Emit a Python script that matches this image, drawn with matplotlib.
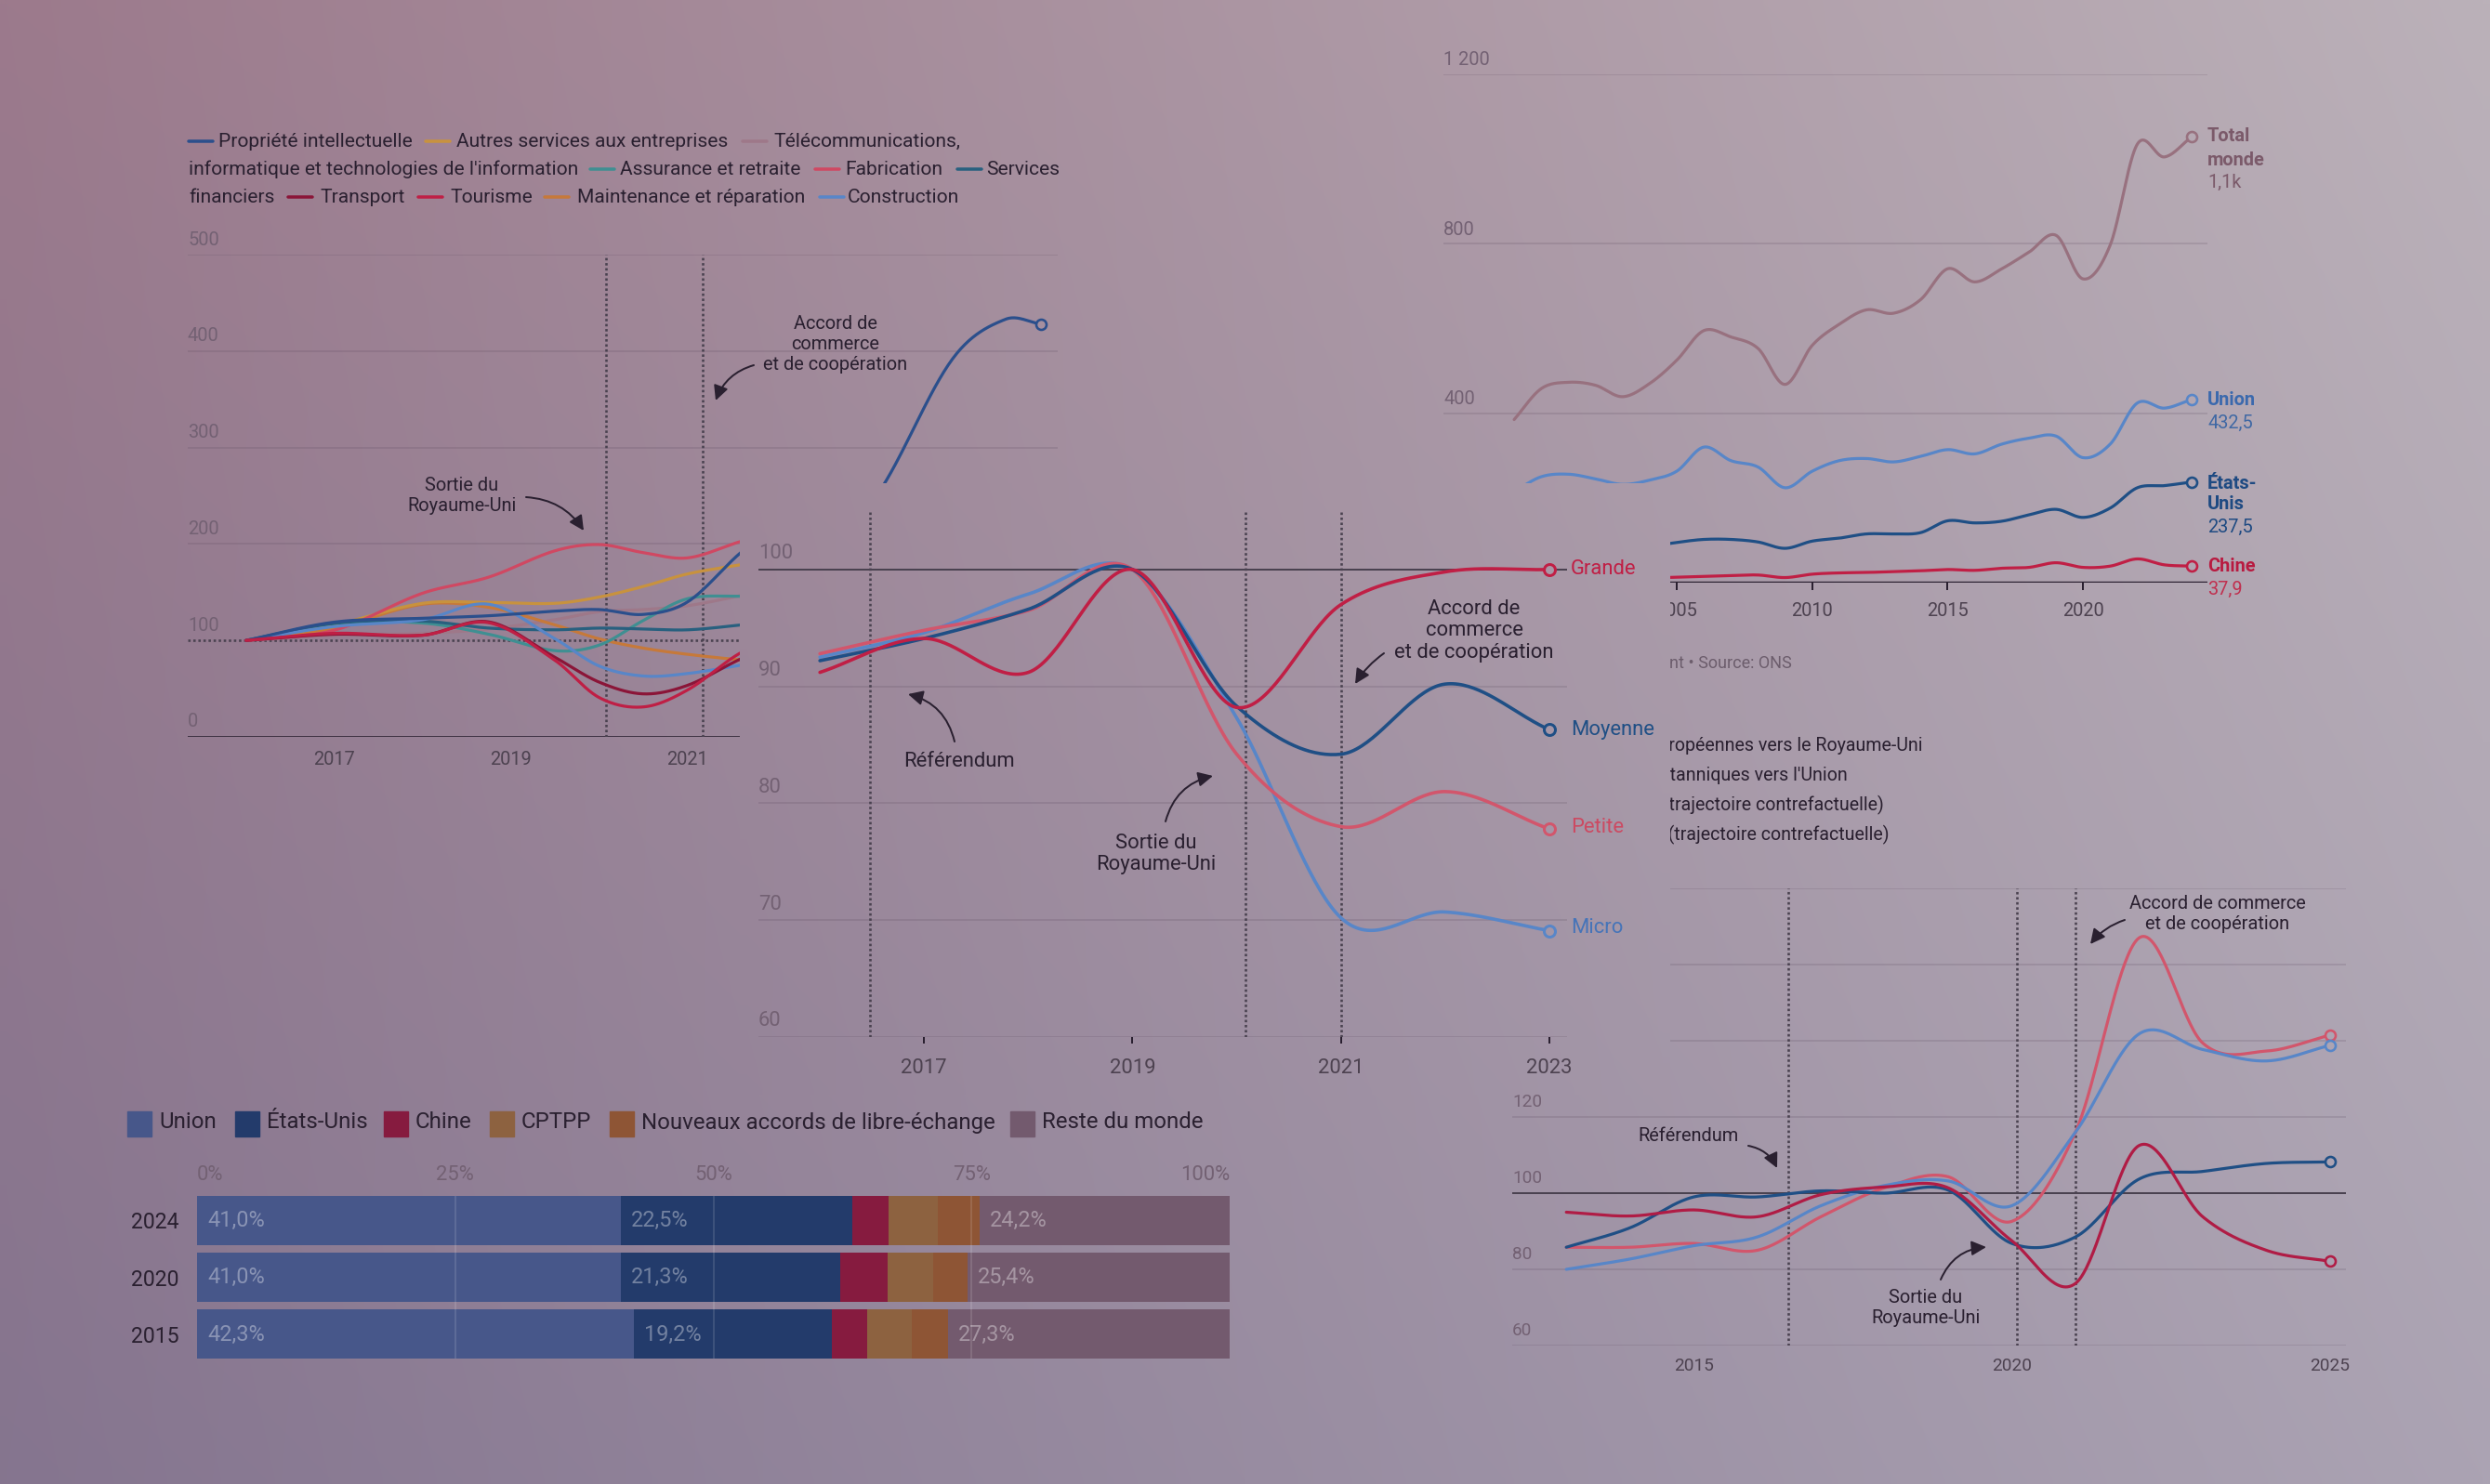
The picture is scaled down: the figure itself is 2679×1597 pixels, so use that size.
import numpy as np
import matplotlib
matplotlib.use('Agg')
import matplotlib.pyplot as plt
from matplotlib import font_manager

W, H, DPI = 2679, 1597, 100

installed = {f.name for f in font_manager.fontManager.ttflist}
FONT = 'Roboto' if 'Roboto' in installed else 'DejaVu Sans'
plt.rcParams['font.family'] = [FONT, 'DejaVu Sans']

# ---------------- data ----------------
# Exports de services par secteur (indice 2016 = 100)
sect_years = [2016, 2017, 2018, 2018.75, 2019.5, 2020, 2020.5, 2021, 2021.6, 2022]
propriete_years = sect_years + [2023, 2024, 2024.6, 2025]
propriete = [100, 119, 123, 125.6, 130.4, 132, 127, 140, 191, 218, 235, 392, 433, 428]
autres = [100, 116, 138.5, 139.4, 138.5, 145, 156, 169, 178.5, 185]
telecom = [100, 105.4, 107.4, 111.9, 121.5, 129.8, 132, 136, 146.5, 155]
assurance = [100, 117.6, 118, 106.4, 89.4, 95.2, 120.8, 143.3, 145.8, 146]
fabrication = [100, 110.6, 149, 165.7, 193, 199.4, 191, 185.6, 202.6, 212]
services_fin = [100, 117.6, 120, 112.8, 111, 112.8, 111.9, 111, 116, 120]
transport = [100, 106.4, 105.4, 119.2, 82.4, 56.7, 44.6, 53.5, 80.8, 95]
tourisme = [100, 107.4, 105.4, 118.3, 79.2, 40.7, 31.1, 48.7, 87.2, 100]
maintenance = [100, 112.8, 137.5, 134.3, 116, 101.6, 92, 85.6, 79.8, 77]
construction = [100, 114.4, 121.5, 137.5, 101.6, 73.4, 63.1, 65.7, 74.4, 80]
sect_names = ['Propriété intellectuelle', 'Autres services aux entreprises',
              "Télécommunications,\ninformatique et technologies de l'information",
              'Assurance et retraite', 'Fabrication', 'Services\nfinanciers', 'Transport',
              'Tourisme', 'Maintenance et réparation', 'Construction']

# Exports par taille d'entreprise (indice 2019 = 100)
firm_years = [2016, 2017, 2018, 2019, 2020, 2021, 2022, 2023]
grande = [91.2, 94.1, 91.2, 100.0, 88.2, 97.0, 99.8, 100.0]
moyenne = [92.2, 94.1, 96.6, 100.0, 88.3, 84.2, 90.2, 86.3]
petite = [92.8, 94.8, 96.5, 100.0, 84.2, 78.0, 81.0, 77.8]
micro = [92.5, 94.6, 97.9, 100.0, 87.3, 70.2, 70.7, 69.1]
firm_names = ['Grande', 'Moyenne', 'Petite', 'Micro']

# Exports britanniques par destination (milliards de livres)
world_years = list(range(1999, 2025))
total_monde = [385, 458, 473, 466, 439, 470, 525, 595, 580, 553, 468, 560, 610, 644, 636,
               668, 741, 710, 741, 780, 820, 717, 797, 1035, 1005, 1052]
union_ue = [215, 250, 256, 245, 232, 242, 263, 320, 288, 273, 224, 263, 288, 293, 285,
            298, 314, 304, 327, 341, 346, 295, 327, 424, 412, 432.5]
etats_unis = [70, 78, 84, 82, 78, 86, 95, 102, 102, 96, 81, 98, 105, 115, 115, 118, 146,
              141, 145, 160, 173, 154, 176, 224, 229, 237.5]
chine = [5, 6, 7, 8, 9, 11, 13, 15, 17, 18, 12, 20, 23, 24, 26, 28, 31, 29, 34, 36, 47,
         36, 39, 56, 42, 39]

# Echanges UE / Royaume-Uni (indice)
trade_years = list(range(2013, 2026))
ue_vers_ru = [95.0, 94.0, 95.6, 93.8, 99.6, 101.6, 101.4, 87.5, 76.3, 112.5, 93.8, 85.0, 82.1]
ru_vers_ue = [85.8, 90.9, 99.0, 99.0, 100.6, 100.0, 100.8, 86.8, 88.5, 103.7, 105.7, 107.8, 108.2]
ue_contref = [85.8, 85.8, 86.8, 85.0, 93.8, 101.4, 104.3, 92.6, 116.0, 167.0, 139.4, 137.3, 141.5]
ru_contref = [80.0, 82.7, 86.2, 88.5, 96.7, 102.0, 103.2, 96.7, 116.0, 141.8, 137.7, 134.7, 138.8]
trade_names = ['Exportations européennes vers le Royaume-Uni',
               "Exportations britanniques vers l'Union",
               'Exportations européennes (trajectoire contrefactuelle)',
               'Exportations britanniques (trajectoire contrefactuelle)']

# Parts des destinations (%)
bar_years = ['2024', '2020', '2015']
share_names = ['Union', 'États-Unis', 'Chine', 'CPTPP', 'Nouveaux accords de libre-échange',
               'Reste du monde']
union_share = [41.0, 41.0, 42.3]
us_share = [22.5, 21.3, 19.2]
china_share = [3.5, 4.6, 3.4]
cptpp_share = [4.7, 4.4, 4.3]
fta_share = [4.1, 3.3, 3.5]
rest_share = [24.2, 25.4, 27.3]

# ---------------- style helpers ----------------
INK = '#2a2030'
GRID = (0.33, 0.26, 0.34, 0.22)
REF = '#4a4250'
YLAB = '#736173'
XLAB = '#4d4250'
DOT = (0, (1, 1.1))
LBLUE = '#5886c8'

bg_tl = np.array([156, 122, 140]) / 255
bg_tr = np.array([187, 177, 185]) / 255
bg_bl = np.array([133, 117, 143]) / 255
bg_br = np.array([171, 163, 179]) / 255


def px(v):
    return v * 72 / DPI


def rect(x0, y0, x1, y1):
    return [x0 / W, 1 - y1 / H, (x1 - x0) / W, (y1 - y0) / H]


def P(x, y):
    return (x / W, 1 - y / H)


def bg_patch(x0, x1, y0, y1, n=64):
    gx, gy = np.meshgrid(np.linspace(x0, x1, n) / W, np.linspace(y0, y1, n) / H)
    gx, gy = gx[..., None], gy[..., None]
    top = bg_tl * (1 - gx) + bg_tr * gx
    bot = bg_bl * (1 - gx) + bg_br * gx
    return np.clip(top * (1 - gy) + bot * gy, 0, 1)


def bg_at(ax, x, y):
    dx, dy = ax.transData.transform((x, y))
    return tuple(bg_patch(dx, dx, H - dy, H - dy, 1)[0, 0])


def smooth(xs, ys, n=40):
    xs = np.asarray(xs, float)
    ys = np.asarray(ys, float)
    m = np.empty_like(ys)
    m[1:-1] = (ys[2:] - ys[:-2]) / (xs[2:] - xs[:-2])
    m[0] = (ys[1] - ys[0]) / (xs[1] - xs[0])
    m[-1] = (ys[-1] - ys[-2]) / (xs[-1] - xs[-2])
    ox, oy = [], []
    t = np.linspace(0, 1, n, endpoint=False)
    for i in range(len(xs) - 1):
        h = xs[i + 1] - xs[i]
        ox.append(xs[i] + t * h)
        oy.append((2 * t**3 - 3 * t**2 + 1) * ys[i] + (t**3 - 2 * t**2 + t) * h * m[i]
                  + (-2 * t**3 + 3 * t**2) * ys[i + 1] + (t**3 - t**2) * h * m[i + 1])
    ox.append([xs[-1]])
    oy.append([ys[-1]])
    return np.concatenate(ox), np.concatenate(oy)


def ftext(ax, x, y, s, size, **kw):
    kw.setdefault('ha', 'left')
    kw.setdefault('va', 'center')
    kw.setdefault('color', INK)
    return ax.text(x / W, 1 - y / H, s, transform=fig.transFigure, fontsize=px(size), **kw)


def arrow(ax, x0, y0, x1, y1, rad):
    ax.annotate('', xy=P(x1, y1), xytext=P(x0, y0), xycoords='figure fraction',
                textcoords='figure fraction',
                arrowprops=dict(arrowstyle='-|>,head_length=0.6,head_width=0.3', color=INK,
                                lw=px(2), shrinkA=0, shrinkB=0, mutation_scale=px(22),
                                connectionstyle=f'arc3,rad={rad}'))


def clean(ax):
    ax.patch.set_visible(False)
    for s in ax.spines.values():
        s.set_visible(False)
    ax.set_yticks([])


def ylabels(ax, values, texts, size, dy=16):
    for v, s in zip(values, texts):
        ax.annotate(s, xy=(0, v), xycoords=('axes fraction', 'data'), xytext=(0, px(dy)),
                    textcoords='offset points', ha='left', va='center', fontsize=px(size),
                    color=YLAB)


def end_marker(ax, x, y, color, size=12, mew=2.8):
    ax.plot([x], [y], 'o', ms=px(size), mew=px(mew), mec=color, mfc=bg_at(ax, x, y),
            zorder=5, clip_on=False)


fig = plt.figure(figsize=(W / DPI, H / DPI), dpi=DPI)

ax_bg = fig.add_axes([0, 0, 1, 1], zorder=0)
ax_bg.imshow(bg_patch(0, W, 0, H, 200), aspect='auto', extent=(0, 1, 0, 1),
             interpolation='bilinear')
ax_bg.axis('off')

# ---------------- chart 1 : sectors ----------------
ax1 = fig.add_axes(rect(202, 274, 1138, 793), zorder=1)
clean(ax1)
ax1.set_xlim(2015.34, 2025.19)
ax1.set_ylim(0, 500)
ax1.set_xticks([2017, 2019, 2021])
ax1.tick_params(axis='x', length=0, pad=px(15), labelsize=px(20), labelcolor=XLAB)
for v in [200, 300, 400, 500]:
    ax1.axhline(v, color=GRID, lw=px(1.5))
ax1.axhline(100, color=REF, lw=px(2.6), ls=DOT)
ax1.axhline(0, color=INK, lw=px(2.6))
ylabels(ax1, [0, 100, 200, 300, 400, 500], ['0', '100', '200', '300', '400', '500'], 20)
for xv in [2020.08, 2021.17]:
    ax1.axvline(xv, color=REF, lw=px(2.6), ls=DOT)

sect_colors = ['#2b4f8c', '#c8923e', '#9e7889', '#3f8f92', '#d04862', '#28607f',
               '#8b1538', '#bf1f45', '#c6793a', LBLUE]
sect_values = [propriete, autres, telecom, assurance, fabrication, services_fin,
               transport, tourisme, maintenance, construction]
draw_order = [2, 8, 1, 4, 3, 5, 9, 0, 6, 7]
for i in draw_order:
    yrs = propriete_years if i == 0 else sect_years
    sx, sy = smooth(yrs, sect_values[i])
    ax1.plot(sx, sy, color=sect_colors[i], lw=px(3.2), solid_capstyle='round')
end_marker(ax1, propriete_years[-1], propriete[-1], sect_colors[0], size=11, mew=2.6)

leg_layout = [(0, 0, 0, 203, 235), (1, 0, 0, 458, 491), (2, 0, 0, 799, 832),
              (2, 1, 1, None, 203), (3, 0, 1, 635, 667), (4, 0, 1, 877, 909),
              (5, 0, 1, 1030, 1061), (5, 1, 2, None, 203), (6, 0, 2, 310, 344),
              (7, 0, 2, 450, 484), (8, 0, 2, 586, 621), (9, 0, 2, 882, 912)]
leg_rows = [152, 182, 212]
for idx, part, row, mx, tx in leg_layout:
    y = leg_rows[row]
    if mx is not None:
        ax1.plot([mx / W, (mx + 26) / W], [1 - y / H] * 2, transform=fig.transFigure,
                 color=sect_colors[idx], lw=px(3.5), solid_capstyle='round', clip_on=False)
    ftext(ax1, tx, y, sect_names[idx].split('\n')[part], 21)

ftext(ax1, 497, 533, 'Sortie du\nRoyaume-Uni', 20, ha='center', multialignment='center',
      linespacing=1.2)
arrow(ax1, 566, 535, 628, 571, -0.25)
ftext(ax1, 899, 370, 'Accord de\ncommerce\net de coopération', 20, ha='center',
      multialignment='center', linespacing=1.2)
arrow(ax1, 811, 393, 770, 431, 0.25)

# ---------------- chart 2 : destinations ----------------
ax2 = fig.add_axes(rect(1553, 80, 2375, 627), zorder=1)
clean(ax2)
ax2.set_xlim(1996.39, 2024.59)
ax2.set_ylim(0, 1200)
ax2.set_xticks([2005, 2010, 2015, 2020])
ax2.tick_params(axis='x', length=px(8), width=px(2), color=INK, pad=px(13),
                labelsize=px(20), labelcolor=XLAB)
for v in [400, 800, 1200]:
    ax2.axhline(v, color=GRID, lw=px(1.5))
ax2.axhline(0, color=INK, lw=px(2.4))
ylabels(ax2, [400, 800, 1200], ['400', '800', '1 200'], 20, dy=15)

world_series = [total_monde, union_ue, etats_unis, chine]
world_colors = ['#98717f', LBLUE, '#1f4f85', '#c01f45']
for vals, c in zip(world_series, world_colors):
    sx, sy = smooth(world_years, vals)
    ax2.plot(sx, sy, color=c, lw=px(3.2), solid_capstyle='round')
    end_marker(ax2, world_years[-1], vals[-1], c, size=11, mew=2.6)

ftext(ax2, 2375, 147, 'Total', 20, color='#7b5a6a', fontweight='bold')
ftext(ax2, 2375, 172, 'monde', 20, color='#7b5a6a', fontweight='bold')
ftext(ax2, 2375, 196, '1,1k', 20, color='#7b5a6a')
ftext(ax2, 2375, 431, 'Union', 20, color='#3b69ad', fontweight='bold')
ftext(ax2, 2375, 455, f'{union_ue[-1]:.1f}'.replace('.', ','), 20, color='#3f68a4')
ftext(ax2, 2375, 520, 'États-', 20, color='#1e4a82', fontweight='bold')
ftext(ax2, 2375, 543, 'Unis', 20, color='#1e4a82', fontweight='bold')
ftext(ax2, 2375, 567, f'{etats_unis[-1]:.1f}'.replace('.', ','), 20, color='#1e4a82')
ftext(ax2, 2375, 609, 'Chine', 20, color='#b81a40', fontweight='bold')
ftext(ax2, 2375, 634, '37,9', 20, color='#c0304f')
ftext(ax2, 1928, 714, 'Milliards de livres sterling, prix courant • Source: ONS', 18,
      ha='right', color='#6c5d6c')

# ---------------- chart 3 : EU / UK trade ----------------
ax3 = fig.add_axes(rect(1627, 956, 2524, 1448), zorder=1)
clean(ax3)
ax3.set_xlim(2012.15, 2025.25)
ax3.set_ylim(60, 180)
ax3.set_xticks([2015, 2020, 2025])
ax3.tick_params(axis='x', length=0, pad=px(13), labelsize=px(19), labelcolor=XLAB)
for v in [60, 80, 120, 140, 160, 180]:
    ax3.axhline(v, color=GRID, lw=px(1.5))
ax3.axhline(100, color=REF, lw=px(2))
ylabels(ax3, [60, 80, 100, 120, 140, 160, 180],
        ['60', '80', '100', '120', '140', '160', '180'], 19)
for xv in [2016.49, 2020.08, 2021.0]:
    ax3.axvline(xv, color=REF, lw=px(2.6), ls=DOT)

trade_series = [ue_contref, ru_contref, ru_vers_ue, ue_vers_ru]
trade_colors = ['#d2566c', LBLUE, '#1f4f85', '#b01c45']
for vals, c in zip(trade_series, trade_colors):
    sx, sy = smooth(trade_years, vals)
    ax3.plot(sx, sy, color=c, lw=px(3.2), solid_capstyle='round')
    end_marker(ax3, trade_years[-1], vals[-1], c, size=11, mew=2.6)

for name, xr, y in zip(trade_names, [2069, 1988, 2027, 2032], [802, 834, 866, 898]):
    ftext(ax3, xr, y, name, 19.6, ha='right')

ftext(ax3, 1817, 1223, 'Référendum', 20, ha='center')
arrow(ax3, 1881, 1233, 1912, 1257, -0.25)
ftext(ax3, 2072, 1408, 'Sortie du\nRoyaume-Uni', 20, ha='center', multialignment='center',
      linespacing=1.2)
arrow(ax3, 2088, 1377, 2137, 1342, -0.3)
ftext(ax3, 2386, 984, 'Accord de commerce\net de coopération', 20, ha='center',
      multialignment='center', linespacing=1.2)
arrow(ax3, 2286, 990, 2249, 1016, 0.15)

# ---------------- panel in front ----------------
ax_occ = fig.add_axes(rect(796, 520, 1797, 1178), zorder=2)
ax_occ.imshow(bg_patch(796, 1797, 520, 1178, 64), aspect='auto', extent=(0, 1, 0, 1),
              interpolation='bilinear')
ax_occ.axis('off')

# ---------------- chart 4 : firm size ----------------
ax4 = fig.add_axes(rect(816, 550, 1686, 1116), zorder=3)
clean(ax4)
ax4.set_xlim(2015.41, 2023.17)
ax4.set_ylim(60, 105)
ax4.set_xticks([2017, 2019, 2021, 2023])
ax4.tick_params(axis='x', length=px(7), width=px(2), color=INK, pad=px(16),
                labelsize=px(22), labelcolor=XLAB)
for v in [60, 70, 80, 90]:
    ax4.axhline(v, color=GRID, lw=px(1.5))
ax4.axhline(100, color=REF, lw=px(2))
ylabels(ax4, [60, 70, 80, 90, 100], ['60', '70', '80', '90', '100'], 22, dy=17)
for xv in [2016.48, 2020.08, 2021.0]:
    ax4.axvline(xv, color=REF, lw=px(2.6), ls=DOT)

firm_series = [micro, petite, moyenne, grande]
firm_colors = [LBLUE, '#d2566c', '#1f4f85', '#c01f45']
firm_label_colors = ['#4674b8', '#cc4a62', '#1f4f85', '#c01f45']
firm_label_y = [999, 891, 785, 613]
for vals, c, lc, name, ly in zip(firm_series, firm_colors, firm_label_colors,
                                 firm_names[::-1], firm_label_y):
    sx, sy = smooth(firm_years, vals)
    ax4.plot(sx, sy, color=c, lw=px(3.6), solid_capstyle='round')
    end_marker(ax4, firm_years[-1], vals[-1], c, size=12, mew=3)
    ftext(ax4, 1690, ly, name, 22, color=lc)

ftext(ax4, 1032, 819, 'Référendum', 22, ha='center')
arrow(ax4, 1027, 798, 977, 747, 0.3)
ftext(ax4, 1244, 919, 'Sortie du\nRoyaume-Uni', 22, ha='center', multialignment='center',
      linespacing=1.18)
arrow(ax4, 1254, 884, 1305, 835, -0.3)
ftext(ax4, 1586, 679, 'Accord de\ncommerce\net de coopération', 22, ha='center',
      multialignment='center', linespacing=1.18)
arrow(ax4, 1489, 703, 1458, 736, 0.1)

# ---------------- chart 5 : shares ----------------
ax5 = fig.add_axes(rect(212, 1280, 1323, 1470), zorder=3)
ax5.patch.set_visible(False)
for s in ax5.spines.values():
    s.set_visible(False)
ax5.set_xlim(0, 100)
ax5.set_ylim(2.553, -0.537)
share_series = [union_share, us_share, china_share, cptpp_share, fta_share, rest_share]
share_colors = ['#47578a', '#233b6b', '#861b3f', '#8d6240', '#8e5535', '#735a6e']
ypos = np.arange(len(bar_years))
left = np.zeros(len(bar_years))
for k, (vals, c) in enumerate(zip(share_series, share_colors)):
    ax5.barh(ypos, vals, left=left, height=0.862, color=c, lw=0)
    if k in (0, 1, 5):
        for yy, lv, vv in zip(ypos, left, vals):
            ax5.text(lv + 1.0, yy, f'{vv:.1f}%'.replace('.', ','), ha='left', va='center',
                     fontsize=px(23.5), color=(1, 1, 1, 0.36))
    left = left + np.array(vals)
ax5.vlines([25, 50, 75], -0.431, 2.431, color=(1, 1, 1, 0.16), lw=px(1.5))
ax5.xaxis.tick_top()
ax5.set_xticks([0, 25, 50, 75, 100])
ax5.set_xticklabels(['0%', '25%', '50%', '75%', '100%'])
ax5.tick_params(axis='x', length=0, pad=px(5), labelsize=px(22), labelcolor=YLAB)
tl = ax5.get_xticklabels()
tl[0].set_ha('left')
tl[-1].set_ha('right')
ax5.set_yticks(ypos)
ax5.set_yticklabels(bar_years)
ax5.tick_params(axis='y', length=0, pad=px(19), labelsize=px(23), labelcolor=INK)

sw_x = [137, 253, 413, 527, 656, 1087]
for name, c, sx in zip(share_names, share_colors, sw_x):
    ax5.add_patch(plt.Rectangle(P(sx, 1223), 26 / W, 27 / H, transform=fig.transFigure,
                                color=c, clip_on=False))
    ftext(ax5, sx + 34, 1208, name, 24)

fig.savefig('out.png', dpi=DPI)
